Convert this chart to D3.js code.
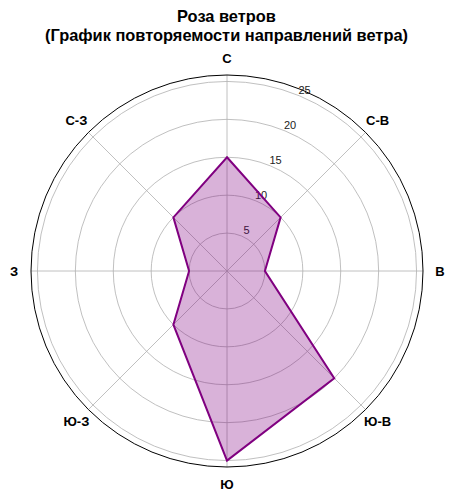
<!DOCTYPE html>
<html>
<head>
<meta charset="utf-8">
<script src="https://cdn.jsdelivr.net/npm/d3@7"></script>
<style>
  body { margin: 0; background: #fff; }
  svg { display: block; font-family: "Liberation Sans", Arial, sans-serif; }
</style>
</head>
<body>
<svg width="453" height="500"></svg>
<script>
// directions, clockwise from north
var directions = ['С', 'С-В', 'В', 'Ю-В', 'Ю', 'Ю-З', 'З', 'С-З'];
var frequency = [15, 10, 5, 20, 25, 10, 5, 10];
var ringTicks = [5, 10, 15, 20, 25];
var titleLines = ['Роза ветров', '(График повторяемости направлений ветра)'];

var width = 453,
    height = 500,
    cx = 227,
    cy = 271,
    outerR = 196;

var svg = d3.select('svg');

// radius scale
var r = d3.scaleLinear().domain([0, 25.85]).range([0, outerR]);
// angle scale, 0 = north, clockwise
var angle = d3.scalePoint().domain(directions.concat(['_end'])).range([0, 2 * Math.PI]);

var g = svg.append('g')
    .attr('transform', 'translate(' + cx + ',' + cy + ')');

// grid rings
g.selectAll('.ring')
    .data(ringTicks)
    .enter().append('circle')
    .attr('class', 'ring')
    .attr('r', function(d) { return r(d); })
    .style('fill', 'none')
    .style('stroke', '#b0b0b0')
    .style('stroke-width', 0.8);

// spokes
g.selectAll('.spoke')
    .data(directions)
    .enter().append('line')
    .attr('class', 'spoke')
    .attr('x1', 0).attr('y1', 0)
    .attr('x2', function(d) { return outerR * Math.sin(angle(d)); })
    .attr('y2', function(d) { return -outerR * Math.cos(angle(d)); })
    .style('stroke', '#b0b0b0')
    .style('stroke-width', 0.8);

// radial tick labels at 22.5 deg
var labAng = Math.PI / 8;
g.selectAll('.rlabel')
    .data(ringTicks)
    .enter().append('text')
    .attr('class', 'rlabel')
    .attr('x', function(d) { return r(d) * Math.sin(labAng) + 5; })
    .attr('y', function(d) { return -r(d) * Math.cos(labAng) - 6; })
    .attr('text-anchor', 'middle')
    .attr('dy', '0.35em')
    .style('font-size', '11px')
    .style('fill', '#222')
    .text(function(d) { return d; });

// data polygon
var line = d3.lineRadial()
    .angle(function(d, i) { return angle(directions[i]); })
    .radius(function(d) { return r(d); })
    .curve(d3.curveLinearClosed);

g.append('path')
    .datum(frequency)
    .attr('d', line)
    .style('fill', 'purple')
    .style('fill-opacity', 0.3)
    .style('stroke', 'purple')
    .style('stroke-width', 2)
    .style('stroke-linejoin', 'miter');

// outer frame
g.append('circle')
    .attr('r', outerR)
    .style('fill', 'none')
    .style('stroke', '#000')
    .style('stroke-width', 1);

// direction labels
var labelR = 213;
g.selectAll('.dir')
    .data(directions)
    .enter().append('text')
    .attr('class', 'dir')
    .attr('x', function(d) { return labelR * Math.sin(angle(d)); })
    .attr('y', function(d) { return -labelR * Math.cos(angle(d)); })
    .attr('text-anchor', 'middle')
    .attr('dy', '0.35em')
    .style('font-size', '13px')
    .style('font-weight', 'bold')
    .text(function(d) { return d; });

// title
svg.selectAll('.title')
    .data(titleLines)
    .enter().append('text')
    .attr('class', 'title')
    .attr('x', width / 2)
    .attr('y', function(d, i) { return 22 + i * 19; })
    .attr('text-anchor', 'middle')
    .style('font-size', '16.4px')
    .style('font-weight', 'bold')
    .text(function(d) { return d; });
</script>
</body>
</html>
